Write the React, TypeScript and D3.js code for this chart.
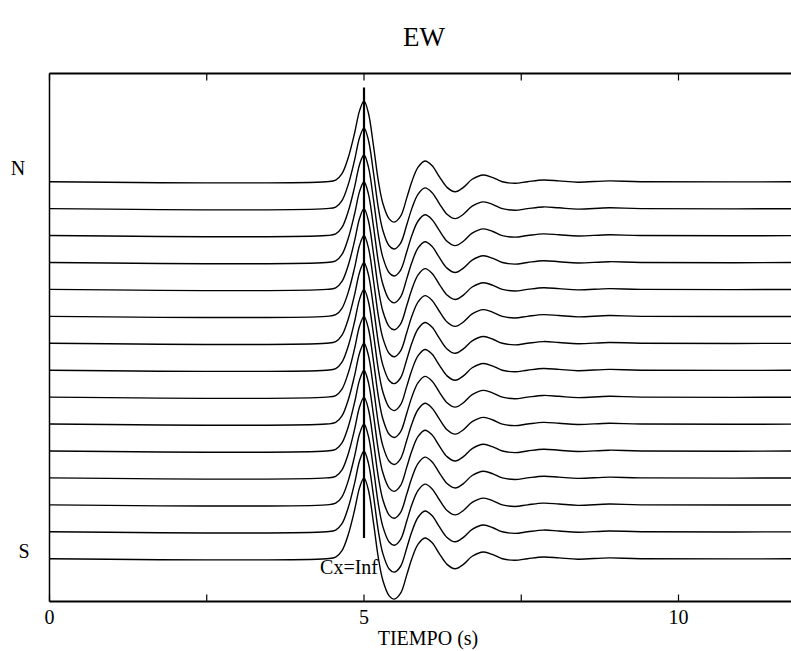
import React from "react";
import * as d3 from "d3";

// waveform: time (s) and normalised amplitude (peak = 1)
const waveTime = [0, 4.4, 4.55, 4.65, 4.75, 4.85, 4.93, 5.0, 5.07, 5.15, 5.23, 5.3, 5.4, 5.48, 5.58, 5.68, 5.76, 5.86, 5.97, 6.08, 6.2, 6.32, 6.45, 6.58, 6.72, 6.9, 7.05, 7.2, 7.4, 7.6, 7.85, 8.1, 8.4, 8.9, 9.4, 12.5];
const waveAmp = [0, 0, 0.02, 0.1, 0.3, 0.6, 0.88, 1.0, 0.85, 0.45, 0.0, -0.27, -0.46, -0.5, -0.43, -0.2, 0.0, 0.18, 0.257, 0.2, 0.06, -0.07, -0.124, -0.07, 0.03, 0.083, 0.05, 0.0, -0.02, 0.0, 0.021, 0.01, -0.006, 0.01, 0.0, 0];

// 15 stations, North (top) to South (bottom)
const stations = d3.range(15);
const majorTicks = [0, 5, 10];
const minorTicks = [2.5, 7.5];
const title = "EW";
const xLabel = "TIEMPO (s)";
const markerTime = 5;
const markerLabel = "Cx=Inf";

const W = 791;
const H = 651;
const left = 49.5;
const top = 73.5;
const bottom = 601.5;

export default function App() {
  const x = d3.scaleLinear().domain([0, 10]).range([left, 678.5]);
  const y = d3.scaleLinear().domain([0, 14]).range([181.7, 558.7]);
  const spacing = y(1) - y(0);
  const gain = 3.0;
  const pts = waveTime.map((t, i) => [t, waveAmp[i]] as [number, number]);
  const font = "'Liberation Serif', 'Times New Roman', serif";

  return (
    <svg width={W} height={H} style={{ position: "absolute", left: 0, top: 0, background: "#fff" }}>
      <defs>
        <clipPath id="plot">
          <rect x={left} y={top} width={W - left} height={bottom - top} />
        </clipPath>
      </defs>
      <text x={424} y={46} fontFamily={font} fontSize={27} textAnchor="middle">{title}</text>
      <g clipPath="url(#plot)">
        {stations.map((s) => {
          const line = d3
            .line<[number, number]>()
            .x((d) => x(d[0]))
            .y((d) => y(s) - d[1] * gain * spacing)
            .curve(d3.curveCatmullRom.alpha(0.5));
          return <path key={s} d={line(pts) || ""} fill="none" stroke="#000" strokeWidth={1.4} />;
        })}
      </g>
      {/* marker line */}
      <line x1={x(markerTime)} x2={x(markerTime)} y1={y(0) - 3.5 * spacing} y2={y(14) - 0.77 * spacing} stroke="#000" strokeWidth={2.2} />
      <text x={x(markerTime) + 14} y={574} fontFamily={font} fontSize={20} textAnchor="end">{markerLabel}</text>
      {/* axes */}
      <line x1={left} x2={W} y1={top} y2={top} stroke="#000" strokeWidth={1.8} />
      <line x1={left} x2={W} y1={bottom} y2={bottom} stroke="#000" strokeWidth={1.8} />
      <line x1={left} x2={left} y1={top} y2={bottom} stroke="#000" strokeWidth={1.5} />
      {[...majorTicks, ...minorTicks].map((t) => (
        <g key={t}>
          <line x1={x(t)} x2={x(t)} y1={bottom} y2={bottom - 7} stroke="#000" strokeWidth={1.2} />
          <line x1={x(t)} x2={x(t)} y1={top} y2={top + 7} stroke="#000" strokeWidth={1.2} />
        </g>
      ))}
      {majorTicks.map((t) => (
        <text key={t} x={x(t)} y={624} fontFamily={font} fontSize={20} textAnchor="middle">{t}</text>
      ))}
      <text x={428} y={645} fontFamily={font} fontSize={20} textAnchor="middle">{xLabel}</text>
      <text x={18} y={175} fontFamily={font} fontSize={20} textAnchor="middle">N</text>
      <text x={24} y={558} fontFamily={font} fontSize={20} textAnchor="middle">S</text>
    </svg>
  );
}
